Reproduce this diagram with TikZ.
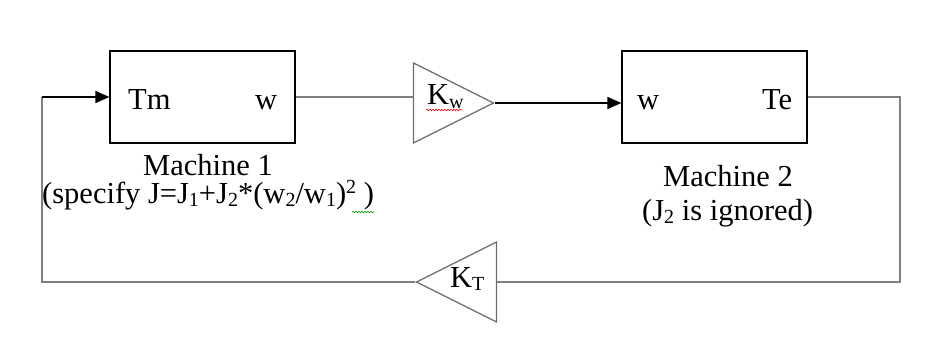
\documentclass[tikz,border=0pt]{standalone}
\usepackage{fontspec}
\setmainfont{Liberation Serif}
\usetikzlibrary{positioning,shapes.geometric,arrows.meta,decorations.pathmorphing}
\newcommand\lo[1]{\raisebox{-0.22ex}{\fontsize{20}{20}\selectfont #1}}
\newcommand\hi[1]{\raisebox{0.7ex}{\fontsize{20}{20}\selectfont #1}}

\begin{document}
\begin{tikzpicture}[x=1pt,y=-1pt,
    font={\fontsize{30.5}{34}\selectfont},
    machine/.style={draw=black, line width=1.2pt, minimum width=185pt, minimum height=92pt, inner sep=0pt},
    gain/.style={draw=gray!85!black, line width=1.2pt, isosceles triangle, isosceles triangle stretches,
        minimum width=80pt, minimum height=80pt, inner sep=0pt},
    wire/.style={draw=gray, line width=1.5pt},
    arrow/.style={draw=black, line width=1.5pt, -{Triangle[length=14pt,width=12pt]}},
    txt/.style={anchor=base west, inner sep=0pt},
    spell/.style={decorate, decoration={snake, amplitude=0.8pt, segment length=3pt}, line width=0.6pt}]
    \useasboundingbox (0,0) rectangle (936,342);

    % blocks
    \node[machine] (box1) at (202.5,97) {};
    \node[machine] (box2) at (714.5,97) {};
    \node[gain, anchor=apex] (kw) at (495,103) {};
    \node[gain, shape border rotate=180, anchor=apex] (kt) at (415,282) {};

    % port and gain labels
    \node[txt] (tm) at (128,110) {Tm};
    \node[txt] (wout) at (255,110) {w};
    \node[txt] (win) at (637,110) {w};
    \node[txt] (te) at (762,110) {Te};
    \node[txt] (kwtext) at (427,105) {K\lo{w}};
    \node[txt] (kttext) at (450,287) {K\lo{T}};

    % captions
    \node[txt] (m1name) at (143,175) {Machine 1};
    \node[txt] (m1note) at (42,203) {(specify J=J\lo{1}+J\lo{2}*(w\lo{2}/w\lo{1})\hi{2} )};
    \node[txt] (m2name) at (663,186) {Machine 2};
    \node[txt] (m2note) at (642,220) {(J\lo{2} is ignored)};

    % forward path
    \draw[wire] (box1.east) -- (box1.east -| kw.lower side);
    \draw[arrow] (kw.apex) -- (kw.apex -| box2.west);

    % feedback path
    \coordinate (rturn) at (900,282);
    \coordinate (lturn) at (42,97);
    \draw[wire] (box2.east) -| (rturn) -- (kt.lower side);
    \draw[wire] (kt.apex) -| (lturn);
    \draw[arrow] (lturn) -- (box1.west);

    % spell-check marks
    \draw[spell, red] (426,110) -- (462,110);
    \draw[spell, green!60!black] (352,212) -- (374,212);
\end{tikzpicture}
\end{document}
